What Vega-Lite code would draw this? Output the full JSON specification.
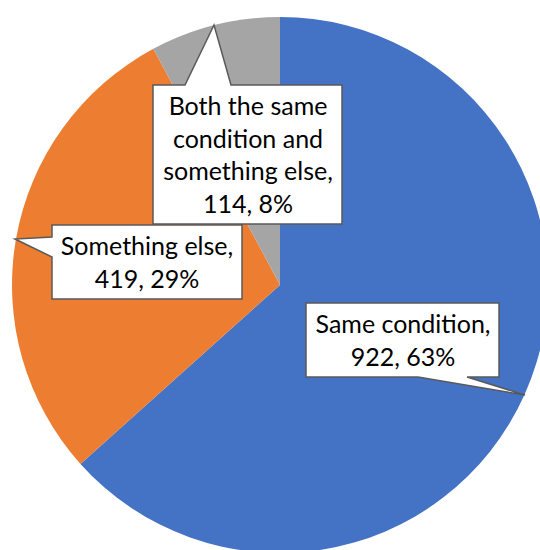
{
  "$schema": "https://vega.github.io/schema/vega-lite/v6.json",
  "width": 520,
  "height": 530,
  "autosize": {"type": "none"},
  "padding": {"left": 20, "top": 20, "right": 0, "bottom": 0},
  "background": "white",
  "config": {"view": {"stroke": null}},
  "data": {
    "values": [
      {"category": "Same condition", "count": 922},
      {"category": "Something else", "count": 419},
      {"category": "Both the same condition and something else", "count": 114}
    ]
  },
  "transform": [
    {"window": [{"op": "row_number", "as": "rank"}]},
    {"joinaggregate": [{"op": "sum", "field": "count", "as": "total"}]},
    {"calculate": "round(100 * datum.count / datum.total)", "as": "pct"}
  ],
  "layer": [
    {
      "mark": {"type": "arc", "radius": 268},
      "encoding": {
        "theta": {"field": "count", "type": "quantitative", "stack": true},
        "order": {"field": "rank", "type": "quantitative"},
        "color": {
          "field": "category",
          "type": "nominal",
          "legend": null,
          "scale": {
            "domain": ["Same condition", "Something else", "Both the same condition and something else"],
            "range": ["#4472C4", "#ED7D31", "#A5A5A5"]
          }
        }
      }
    },
    {
      "transform": [{"filter": "datum.rank == 3"}],
      "mark": {"type": "point", "shape": "M-127,-200L-95,-200L-66,-260L-49,-200L62,-200L62,-61L-127,-61Z", "size": 4, "filled": true, "fill": "white", "stroke": "#595959", "strokeWidth": 1.5, "opacity": 1, "strokeJoin": "miter"},
      "encoding": {}
    },
    {
      "transform": [{"filter": "datum.rank == 2"}],
      "mark": {"type": "point", "shape": "M-228,-60L-38,-60L-38,14L-228,14L-228,-28L-265,-46L-228,-48Z", "size": 4, "filled": true, "fill": "white", "stroke": "#595959", "strokeWidth": 1.5, "opacity": 1, "strokeJoin": "miter"},
      "encoding": {}
    },
    {
      "transform": [{"filter": "datum.rank == 1"}],
      "mark": {"type": "point", "shape": "M26,18L219,18L219,92L187,92L245,110L138,92L26,92Z", "size": 4, "filled": true, "fill": "white", "stroke": "#595959", "strokeWidth": 1.5, "opacity": 1, "strokeJoin": "miter"},
      "encoding": {}
    },
    {
      "transform": [
        {"filter": "datum.rank == 3"},
        {"calculate": "'Both the same\\ncondition and\\nsomething else,\\n' + datum.count + ', ' + datum.pct + '%'", "as": "label"}
      ],
      "mark": {"type": "text", "lineBreak": "\n", "align": "center", "baseline": "top", "font": "Lato", "fontSize": 25, "lineHeight": 32.5, "color": "black", "dx": -32, "dy": -190},
      "encoding": {"text": {"field": "label", "type": "nominal"}}
    },
    {
      "transform": [
        {"filter": "datum.rank == 2"},
        {"calculate": "datum.category + ',\\n' + datum.count + ', ' + datum.pct + '%'", "as": "label"}
      ],
      "mark": {"type": "text", "lineBreak": "\n", "align": "center", "baseline": "top", "font": "Lato", "fontSize": 25, "lineHeight": 32.5, "color": "black", "dx": -133, "dy": -50},
      "encoding": {"text": {"field": "label", "type": "nominal"}}
    },
    {
      "transform": [
        {"filter": "datum.rank == 1"},
        {"calculate": "datum.category + ',\\n' + datum.count + ', ' + datum.pct + '%'", "as": "label"}
      ],
      "mark": {"type": "text", "lineBreak": "\n", "align": "center", "baseline": "top", "font": "Lato", "fontSize": 25, "lineHeight": 32.5, "color": "black", "dx": 123, "dy": 28},
      "encoding": {"text": {"field": "label", "type": "nominal"}}
    }
  ]
}
